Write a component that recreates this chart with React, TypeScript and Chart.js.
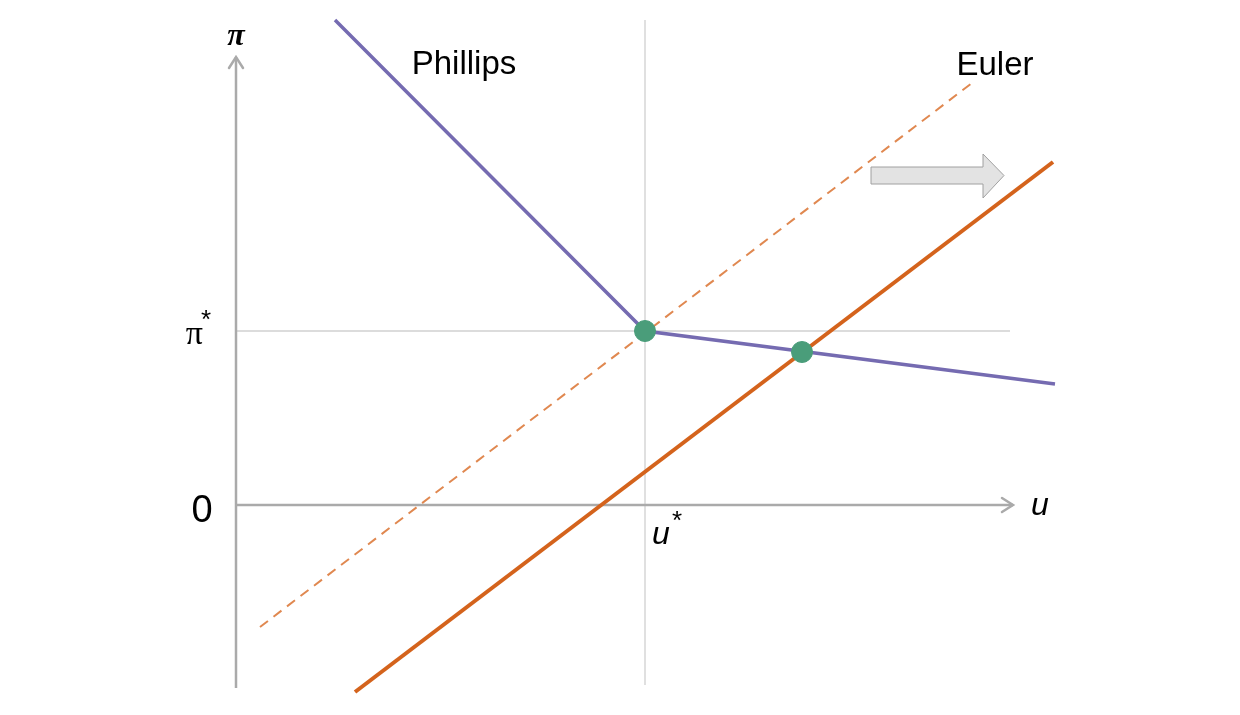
import React, { useEffect, useRef } from 'react';
import { Chart, registerables, Plugin } from 'chart.js';

Chart.register(...registerables);

// curve points (u, π)
const phillipsU = [0.99, 4.09, 8.19];
const phillipsPi = [4.85, 1.74, 1.21];
const eulerOldU = [0.24, 7.36];
const eulerOldPi = [-1.22, 4.22];
const eulerNewU = [1.19, 8.17];
const eulerNewPi = [-1.87, 3.43];
const equilibriumU = [4.09, 5.66];
const equilibriumPi = [1.74, 1.53];

// reference values
const uStar = 4.09;
const piStar = 1.74;

const pts = (xs: number[], ys: number[]) => xs.map((x, i) => ({ x, y: ys[i] }));

const overlay: Plugin = {
  id: 'overlay',
  afterDatasetsDraw(chart) {
    const { ctx } = chart;
    const xs = chart.scales.x;
    const ys = chart.scales.y;
    const px = (u: number) => xs.getPixelForValue(u);
    const py = (p: number) => ys.getPixelForValue(p);
    ctx.save();

    // axis arrow heads
    ctx.strokeStyle = '#aaaaaa';
    ctx.lineWidth = 2.5;
    ctx.lineCap = 'round';
    ctx.beginPath();
    const yt = { x: px(0), y: py(4.48) };
    ctx.moveTo(yt.x - 7, yt.y + 11);
    ctx.lineTo(yt.x, yt.y);
    ctx.lineTo(yt.x + 7, yt.y + 11);
    const xt = { x: px(7.77), y: py(0) };
    ctx.moveTo(xt.x - 11, xt.y - 7);
    ctx.lineTo(xt.x, xt.y);
    ctx.lineTo(xt.x - 11, xt.y + 7);
    ctx.stroke();

    // shift arrow
    ctx.fillStyle = '#e3e3e3';
    ctx.strokeStyle = '#a0a0a0';
    ctx.lineWidth = 1;
    ctx.lineCap = 'butt';
    ctx.beginPath();
    ctx.moveTo(px(6.35), py(3.38));
    ctx.lineTo(px(7.47), py(3.38));
    ctx.lineTo(px(7.47), py(3.51));
    ctx.lineTo(px(7.68), py(3.295));
    ctx.lineTo(px(7.47), py(3.07));
    ctx.lineTo(px(7.47), py(3.21));
    ctx.lineTo(px(6.35), py(3.21));
    ctx.closePath();
    ctx.fill();
    ctx.stroke();

    // labels
    ctx.fillStyle = '#000';
    ctx.textBaseline = 'middle';
    ctx.textAlign = 'center';
    ctx.font = '33px "Liberation Sans", Arial, sans-serif';
    ctx.fillText('Phillips', px(2.28), py(4.4));
    ctx.fillText('Euler', px(7.59), py(4.39));
    ctx.font = '38px "Liberation Sans", Arial, sans-serif';
    ctx.fillText('0', px(-0.34), py(-0.07));

    ctx.font = 'italic bold 32px "Liberation Serif", "DejaVu Serif", serif';
    ctx.fillText('π', px(0), py(4.68));

    ctx.textAlign = 'right';
    ctx.font = '34px "Liberation Serif", serif';
    ctx.fillText('π', px(-0.33), py(1.7));
    ctx.textAlign = 'left';
    ctx.font = '26px "Liberation Sans", Arial, sans-serif';
    ctx.fillText('*', px(-0.35), py(1.84));

    ctx.font = 'italic 32px "Liberation Sans", Arial, sans-serif';
    ctx.fillText('u', px(4.16), py(-0.3));
    ctx.font = '26px "Liberation Sans", Arial, sans-serif';
    ctx.fillText('*', px(4.36), py(-0.17));
    ctx.font = 'italic 32px "Liberation Sans", Arial, sans-serif';
    ctx.textAlign = 'center';
    ctx.fillText('u', px(8.04), py(-0.01));

    ctx.restore();
  }
};

export default function App() {
  const canvasRef = useRef<HTMLCanvasElement>(null);
  const chartRef = useRef<Chart | null>(null);

  useEffect(() => {
    document.body.style.margin = '0';
    if (!canvasRef.current) return;
    if (chartRef.current) chartRef.current.destroy();

    chartRef.current = new Chart(canvasRef.current, {
      type: 'scatter',
      data: {
        datasets: [
          {
            label: 'Equilibrium',
            data: pts(equilibriumU, equilibriumPi),
            pointRadius: 10.5,
            pointBackgroundColor: '#4a9d7a',
            pointBorderColor: '#4a9d7a',
            showLine: false
          },
          {
            label: 'Phillips',
            data: pts(phillipsU, phillipsPi),
            showLine: true,
            borderColor: '#756bb1',
            borderWidth: 3.5,
            pointRadius: 0
          },
          {
            label: 'Euler',
            data: pts(eulerNewU, eulerNewPi),
            showLine: true,
            borderColor: '#d4631c',
            borderWidth: 4,
            pointRadius: 0
          },
          {
            label: 'Euler (old)',
            data: pts(eulerOldU, eulerOldPi),
            showLine: true,
            borderColor: '#e08850',
            borderWidth: 2,
            borderDash: [10, 7],
            pointRadius: 0
          },
          {
            label: 'u axis',
            data: [{ x: 0, y: 0 }, { x: 7.77, y: 0 }],
            showLine: true,
            borderColor: '#aaaaaa',
            borderWidth: 2.5,
            pointRadius: 0
          },
          {
            label: 'π axis',
            data: [{ x: 0, y: -1.83 }, { x: 0, y: 4.48 }],
            showLine: true,
            borderColor: '#aaaaaa',
            borderWidth: 2.5,
            pointRadius: 0
          },
          {
            label: 'π*',
            data: [{ x: 0, y: piStar }, { x: 7.74, y: piStar }],
            showLine: true,
            borderColor: '#d0d0d0',
            borderWidth: 1.3,
            pointRadius: 0
          },
          {
            label: 'u*',
            data: [{ x: uStar, y: -1.8 }, { x: uStar, y: 4.85 }],
            showLine: true,
            borderColor: '#d0d0d0',
            borderWidth: 1.3,
            pointRadius: 0
          }
        ]
      },
      options: {
        animation: false,
        responsive: true,
        maintainAspectRatio: false,
        layout: { padding: 0, autoPadding: false },
        plugins: {
          legend: { display: false },
          tooltip: { enabled: false }
        },
        scales: {
          x: { type: 'linear', display: false, min: -2.36, max: 10.04 },
          y: { type: 'linear', display: false, min: -2.1, max: 5.05 }
        }
      },
      plugins: [overlay]
    });

    return () => {
      if (chartRef.current) {
        chartRef.current.destroy();
        chartRef.current = null;
      }
    };
  }, []);

  return (
    <div style={{ position: 'relative', width: 1240, height: 715, background: '#fff' }}>
      <canvas ref={canvasRef} />
    </div>
  );
}
